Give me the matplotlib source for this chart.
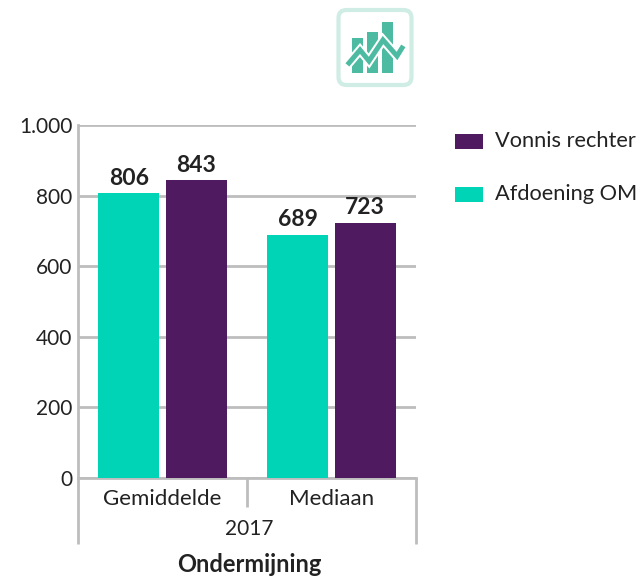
import matplotlib
matplotlib.use("Agg")
import matplotlib.pyplot as plt
from matplotlib.patches import FancyBboxPatch, Rectangle
import matplotlib.patheffects as pe

categories = ["Gemiddelde", "Mediaan"]
afdoening_om = [806, 689]
vonnis_rechter = [843, 723]
y_ticks = [0, 200, 400, 600, 800, 1000]
y_labels = ["0", "200", "400", "600", "800", "1.000"]
year_label = "2017"
group_label = "Ondermijning"

W, H = 639, 578
TEAL, PURPLE, GRID, TXT = "#00D4B6", "#4F1A60", "#BDBDBD", "#222222"
plt.rcParams["font.family"] = ["Lato", "DejaVu Sans"]

fig = plt.figure(figsize=(W / 100, H / 100), dpi=100)
L, R, T, B = 78, 416, 125, 478
ax = fig.add_axes([L / W, 1 - B / H, (R - L) / W, (B - T) / H])
xs = range(len(categories))
bw, off = 0.361, 0.2
ax.bar([x - off for x in xs], afdoening_om, bw, color=TEAL, zorder=3)
ax.bar([x + off for x in xs], vonnis_rechter, bw, color=PURPLE, zorder=3)
ax.set_xlim(-0.5, 1.5)
ax.set_ylim(0, 1000)
ax.set_yticks(y_ticks, y_labels, fontsize=15, color=TXT)
ax.set_xticks([])
ax.tick_params(axis="y", length=0, pad=4)
ax.grid(axis="y", color=GRID, lw=2, zorder=0)
for s in ["top", "right"]:
    ax.spines[s].set_visible(False)
for s in ["left", "bottom"]:
    ax.spines[s].set_color(GRID)
    ax.spines[s].set_linewidth(2)

for x, a, v in zip(xs, afdoening_om, vonnis_rechter):
    ax.annotate(str(a), (x - off, a), xytext=(0, 3.5), textcoords="offset points",
                ha="center", va="bottom", fontsize=16.5, fontweight="bold", color=TXT)
    ax.annotate(str(v), (x + off, v), xytext=(0, 3.5), textcoords="offset points",
                ha="center", va="bottom", fontsize=16.5, fontweight="bold", color=TXT)

# pixel overlay for multi-level axis, legend and icon
ov = fig.add_axes([0, 0, 1, 1], zorder=5)
ov.set_xlim(0, W)
ov.set_ylim(H, 0)
ov.axis("off")
ov.patch.set_alpha(0)
for xp, y0, y1 in [(L, B, 544), (R, B, 544), (247, B, 507)]:
    ov.plot([xp, xp], [y0, y1], color=GRID, lw=2, solid_capstyle="butt")
ov.text(162.5, 499, categories[0], ha="center", va="center", fontsize=16, color=TXT,
        bbox=dict(fc="none", ec="none"))
ov.text(331.5, 499, categories[1], ha="center", va="center", fontsize=16, color=TXT)
ov.text(249, 529, year_label, ha="center", va="center", fontsize=15, color=TXT)
ov.text(249.5, 565, group_label, ha="center", va="center", fontsize=17, fontweight="bold", color=TXT)

ov.add_patch(Rectangle((455, 134), 28, 15, color=PURPLE, lw=0))
ov.add_patch(Rectangle((455, 187), 28, 15, color=TEAL, lw=0))
ov.text(495, 141, "Vonnis rechter", va="center", fontsize=15.7, color=TXT)
ov.text(495, 194, "Afdoening OM", va="center", fontsize=15.7, color=TXT)

ICON = "#4DBBA2"
ov.add_patch(FancyBboxPatch((338.5, 10), 73, 75, boxstyle="round,pad=0,rounding_size=8",
                            fc="white", ec="#CFEDE4", lw=3))
for bx, by in [(352, 38), (367, 32), (382, 22)]:
    ov.add_patch(Rectangle((bx, by), 11, 73 - by, color=ICON, lw=0))
ov.plot([349, 360, 369, 383, 397, 402], [63, 50, 61, 40, 56, 48], color=ICON, lw=3.6,
        solid_joinstyle="miter",
        path_effects=[pe.Stroke(linewidth=6.5, foreground="white"), pe.Normal()])

fig.savefig("out.png", dpi=100)
